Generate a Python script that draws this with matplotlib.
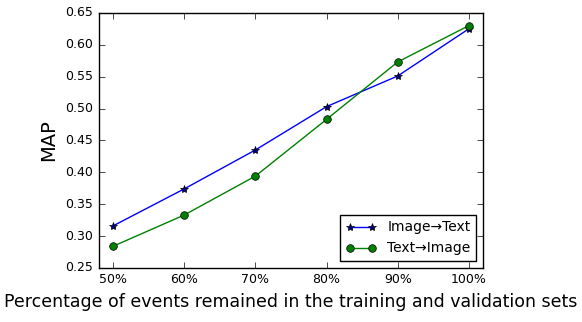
import matplotlib
matplotlib.use('Agg')
import matplotlib.pyplot as plt

# Percentage of events kept in training/validation
percent = [50, 60, 70, 80, 90, 100]
percent_labels = ['50%', '60%', '70%', '80%', '90%', '100%']
image_to_text = [0.316, 0.374, 0.435, 0.503, 0.551, 0.625]
text_to_image = [0.284, 0.333, 0.394, 0.483, 0.573, 0.630]

plt.style.use('classic')
fig = plt.figure(figsize=(5.82, 3.22), dpi=100)
ax = fig.add_axes([0.170, 0.168, 0.660, 0.792])

ax.plot(percent, image_to_text, color='b', marker='*', markersize=6,
        markerfacecolor='navy', markeredgecolor='k', markeredgewidth=0.5,
        label='Image\u2192Text')
ax.plot(percent, text_to_image, color='g', marker='o', markersize=5.5,
        markerfacecolor='g', markeredgecolor='k', markeredgewidth=0.5,
        label='Text\u2192Image')

ax.set_xlim(48, 102)
ax.set_ylim(0.25, 0.65)
ax.set_xticks(percent)
ax.set_xticklabels(percent_labels)
ax.tick_params(labelsize=9)
ax.set_ylabel('MAP', fontsize=14)
ax.set_xlabel('Percentage of events remained in the training and validation sets', fontsize=12.5)
ax.legend(loc='lower right', fontsize=10, numpoints=2, handlelength=2.2)

fig.savefig('out.png', dpi=100)
